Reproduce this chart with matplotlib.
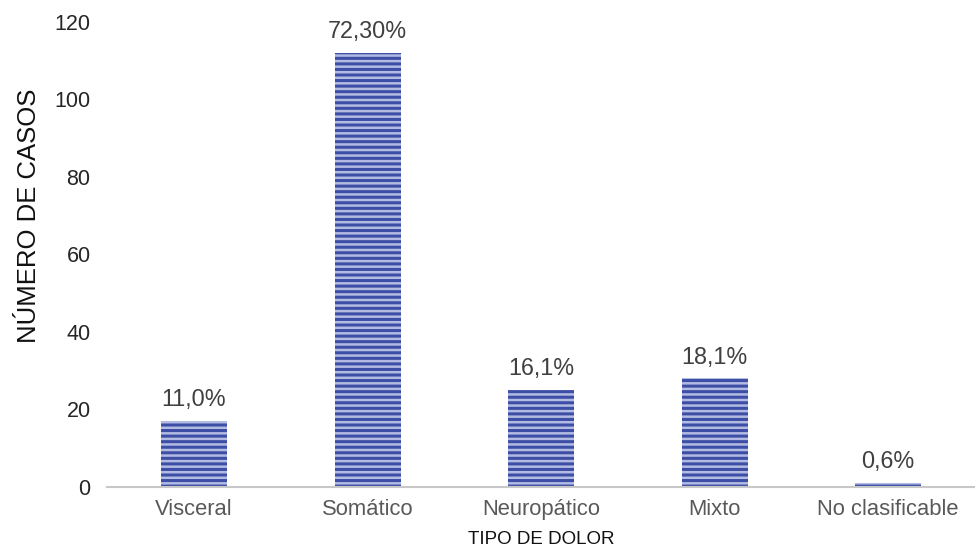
import matplotlib.pyplot as plt
import numpy as np

plt.rcParams['font.family'] = ['Liberation Sans', 'DejaVu Sans']
plt.rcParams['hatch.linewidth'] = 2.2

# Datos
categorias = ['Visceral', 'Somático', 'Neuropático', 'Mixto', 'No clasificable']
casos = [17, 112, 25, 28, 1]
etiquetas = ['11,0%', '72,30%', '16,1%', '18,1%', '0,6%']

fig = plt.figure(figsize=(9.75, 5.57), dpi=100)
ax = fig.add_axes([0.11, 0.126, 0.89, 0.835])

x = np.arange(len(categorias))
barras = ax.bar(x, casos, width=0.38, color='#b3bbe2', edgecolor='#3d4ea6',
                hatch='---', linewidth=0)

for b, txt in zip(barras, etiquetas):
    ax.annotate(txt, (b.get_x() + b.get_width() / 2, b.get_height()),
                xytext=(0, 7), textcoords='offset points',
                ha='center', va='bottom', fontsize=16.8, color='#404040')

ax.set_xlim(-0.5, 4.5)
ax.set_ylim(0, 120)
ax.set_yticks(range(0, 121, 20))
ax.set_xticks(x)
ax.set_xticklabels(categorias)
ax.tick_params(axis='x', length=0, labelsize=15.8, colors='#595959', pad=9)
ax.tick_params(axis='y', length=0, labelsize=15.5, colors='#262626', pad=12)

for lado in ['top', 'right', 'left']:
    ax.spines[lado].set_visible(False)
ax.spines['bottom'].set_color('#c8c8c8')
ax.spines['bottom'].set_linewidth(1.5)

ax.set_xlabel('TIPO DE DOLOR', fontsize=13.5, color='#111111', labelpad=8)
ax.set_ylabel('NÚMERO DE CASOS', fontsize=18.5, color='#111111')
ax.yaxis.set_label_coords(-0.076, 0.583)

fig.savefig('out.png', dpi=100)
